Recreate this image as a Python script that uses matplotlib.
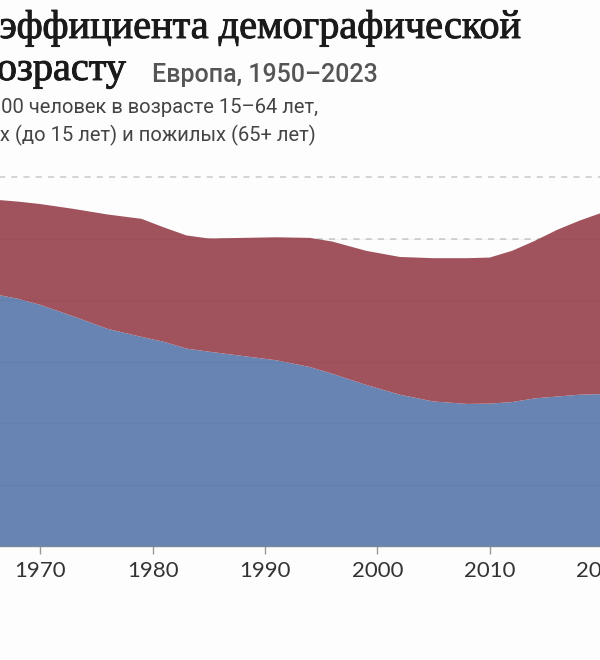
import matplotlib
matplotlib.use("Agg")
from matplotlib import pyplot as plt
import matplotlib.patheffects as pe

# Europe, dependents per 100 people aged 15-64
years = [1950, 1955, 1960, 1963, 1966, 1968, 1970, 1973, 1976, 1979, 1981, 1983,
         1985, 1988, 1991, 1994, 1996, 1999, 2002, 2005, 2008, 2010, 2012, 2014,
         2016, 2018, 2020, 2023]
young = [38.5, 39.5, 40.5, 41.0, 40.9, 40.2, 39.2, 37.3, 35.3, 34.0, 33.2, 32.1,
         31.6, 30.9, 30.2, 29.1, 28.0, 26.2, 24.6, 23.5, 23.1, 23.15, 23.4, 24.0,
         24.3, 24.6, 24.7, 24.6]
old = [14.0, 14.0, 14.5, 15.0, 15.4, 15.8, 16.4, 17.5, 18.6, 19.2, 18.6, 18.4,
       18.4, 19.2, 20.0, 21.0, 21.5, 21.8, 22.4, 23.3, 23.7, 23.75, 24.6, 25.6,
       27.1, 28.3, 29.5, 31.2]
xticks = [1950, 1960, 1970, 1980, 1990, 2000, 2010, 2020]
ygrid = [10, 20, 30, 40, 50, 60]

blue = "#6784b2"
red = "#a1535d"

W, H = 600, 660
fig = plt.figure(figsize=(W / 100, H / 100), dpi=100)
fig.patch.set_facecolor("#fdfdfd")

# the crop shows roughly 1966.4 .. 2020, 11.23 px per year, baseline at y=546
px_year = 11.23
x0 = (years[0] - 1966.4) * px_year
wpx = (years[-1] - years[0]) * px_year
px_unit = 6.15
ytop = 65
ax = fig.add_axes([x0 / W, (H - 546) / H, wpx / W, ytop * px_unit / H])
ax.set_facecolor("none")

for g in ygrid:
    ax.axhline(g, color="#c9c9c9", lw=1.1, ls=(0, (4, 4)), zorder=0)

ax.stackplot(years, young, old, colors=[blue, red], lw=0, zorder=1)

for g in ygrid[:-1]:
    ax.axhline(g, color="black", alpha=0.035, lw=0.9, zorder=2)

ax.set_xlim(years[0], years[-1])
ax.set_ylim(0, ytop)
ax.set_yticks([])
ax.set_xticks(xticks)
ax.set_xticklabels([str(t) for t in xticks], family="Lato", fontsize=16, color="#333333")
ax.tick_params(axis="x", length=6, width=1, color="#999999", pad=5)
for s in ["top", "left", "right"]:
    ax.spines[s].set_visible(False)
ax.spines["bottom"].set_color("#7d879a")
ax.spines["bottom"].set_linewidth(1)

def put(x, y, s, **kw):
    fig.text(x / W, 1 - y / H, s, ha="right", va="baseline", **kw)

bold = [pe.withStroke(linewidth=0.7, foreground="#1a1a1a")]
put(522, 38, "Динамика коэффициента демографической",
    family="Liberation Serif", fontsize=29, color="#1a1a1a", path_effects=bold)
put(126, 80, "нагрузки по возрасту",
    family="Liberation Serif", fontsize=29, color="#1a1a1a", path_effects=bold)
fig.text(152 / W, 1 - 82 / H, "Европа, 1950–2023", ha="left", va="baseline",
         family="Roboto", fontsize=18, fontweight="medium", color="#555555")
put(318, 113, "Число иждивенцев на 100 человек в возрасте 15–64 лет,",
    family="Roboto", fontsize=14.5, color="#444444")
put(316, 141, "в том числе молодых (до 15 лет) и пожилых (65+ лет)",
    family="Roboto", fontsize=14.5, color="#444444")

fig.savefig("out.png", dpi=100, facecolor=fig.get_facecolor())
